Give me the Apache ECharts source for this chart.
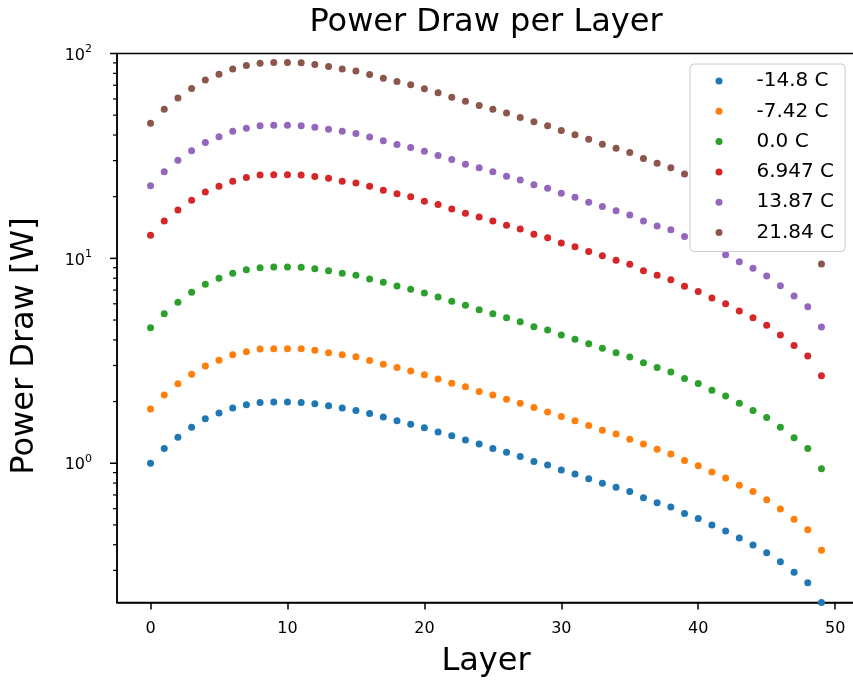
<!DOCTYPE html>
<html>
<head>
<meta charset="utf-8">
<script src="https://cdn.jsdelivr.net/npm/echarts@6/dist/echarts.min.js"></script>
<style>
  html, body { margin: 0; padding: 0; background: #fff; }
  #main { width: 853px; height: 684px; }
</style>
</head>
<body>
<div id="main"></div>
<script>
// layers on the x axis
const layers = [0,1,2,3,4,5,6,7,8,9,10,11,12,13,14,15,16,17,18,19,20,21,22,23,24,
  25,26,27,28,29,30,31,32,33,34,35,36,37,38,39,40,41,42,43,44,45,46,47,48,49];

// power draw [W] per temperature
const tm148 = [1.00,1.18,1.34,1.50,1.65,1.76,1.86,1.93,1.98,1.99,1.99,1.98,1.95,1.91,1.86,1.81,1.75,1.68,1.61,1.55,
  1.49,1.42,1.36,1.30,1.24,1.18,1.13,1.08,1.02,0.981,0.927,0.887,0.841,0.799,0.764,0.727,0.679,0.642,0.612,0.568,
  0.537,0.500,0.467,0.432,0.399,0.366,0.330,0.294,0.261,0.209];
const tm742 = [1.84,2.15,2.44,2.72,2.98,3.18,3.38,3.50,3.61,3.62,3.62,3.62,3.56,3.46,3.38,3.31,3.17,3.04,2.93,2.82,
  2.70,2.58,2.46,2.36,2.24,2.15,2.05,1.96,1.87,1.78,1.69,1.61,1.53,1.45,1.39,1.31,1.24,1.17,1.11,1.03,
  0.973,0.907,0.848,0.781,0.727,0.664,0.598,0.533,0.473,0.376];
const t00 = [4.59,5.37,6.10,6.83,7.47,7.99,8.45,8.80,9.00,9.07,9.07,9.04,8.90,8.70,8.45,8.28,7.93,7.64,7.33,7.06,
  6.77,6.48,6.17,5.90,5.61,5.37,5.13,4.91,4.64,4.47,4.22,4.03,3.83,3.64,3.46,3.30,3.09,2.93,2.79,2.59,
  2.45,2.27,2.13,1.96,1.81,1.67,1.50,1.33,1.18,0.941];
const t6947 = [12.95,15.2,17.2,19.2,21.1,22.5,23.8,24.8,25.5,25.6,25.6,25.5,25.1,24.6,23.8,23.3,22.5,21.5,20.7,20.0,
  19.0,18.3,17.4,16.6,15.9,15.2,14.5,13.9,13.1,12.6,11.9,11.4,10.8,10.3,9.78,9.35,8.70,8.26,7.86,7.30,
  6.90,6.40,6.00,5.53,5.13,4.71,4.22,3.76,3.34,2.67];
const t1387 = [22.6,26.5,30.1,33.5,36.8,39.2,41.7,43.2,44.4,44.6,44.6,44.4,43.7,42.7,41.7,40.7,39.1,37.5,36.0,34.8,
  33.3,31.8,30.4,28.8,27.7,26.5,25.2,24.1,22.9,22.0,20.8,19.9,18.8,17.9,17.1,16.3,15.2,14.4,13.8,12.8,
  12.0,11.2,10.4,9.63,8.94,8.20,7.35,6.55,5.81,4.62];
const t2184 = [45.7,53.5,60.7,67.5,74.3,79.3,84.1,87.4,89.7,90.4,90.4,90.0,88.4,86.4,84.1,82.2,79.0,75.8,73.0,70.3,
  67.2,64.3,61.2,58.5,55.8,53.5,51.2,48.7,46.4,44.4,42.1,40.1,38.1,36.1,34.5,32.9,30.7,29.1,27.7,25.8,
  24.3,22.7,21.1,19.6,18.1,16.6,14.9,13.3,11.8,9.38];

const seriesNames = ['-14.8 C', '-7.42 C', '0.0 C', '6.947 C', '13.87 C', '21.84 C'];
const seriesData = [tm148, tm742, t00, t6947, t1387, t2184];
const colors = ['#1f77b4', '#ff7f0e', '#2ca02c', '#d62728', '#9467bd', '#8c564b'];

const xTicks = [0, 10, 20, 30, 40, 50];
const yMajorTicks = [1, 10, 100];
const yMinorTicks = [0.3,0.4,0.5,0.6,0.7,0.8,0.9, 2,3,4,5,6,7,8,9, 20,30,40,50,60,70,80,90];

const FONT = "'DejaVu Sans', sans-serif";
const xMin = -2.45, xMax = 51.45, yMin = 0.209, yMax = 100;

const chart = echarts.init(document.getElementById('main'));

chart.setOption({
  animation: false,
  backgroundColor: '#fff',
  grid: {
    left: 117, top: 53.5, width: 738, height: 549,
    show: true, borderColor: '#000', borderWidth: 1.5,
    containLabel: false, outerBoundsMode: 'none'
  },
  xAxis: {
    type: 'value', min: xMin, max: xMax,
    name: 'Layer', nameLocation: 'middle', nameGap: 43,
    nameTextStyle: { fontSize: 32, fontFamily: FONT, color: '#000' },
    axisLine: { onZero: false, lineStyle: { color: '#000', width: 1.5 } },
    axisTick: { customValues: xTicks, length: 7, lineStyle: { color: '#000', width: 1.5 } },
    axisLabel: { customValues: xTicks, margin: 18, fontSize: 16, fontFamily: FONT, color: '#000' },
    splitLine: { show: false }
  },
  yAxis: {
    type: 'log', logBase: 10, min: yMin, max: yMax,
    axisLine: { onZero: false, lineStyle: { color: '#000', width: 1.5 } },
    axisTick: { show: false },
    splitLine: { show: false },
    axisLabel: {
      margin: 25,
      formatter: function (v) {
        const l = Math.log10(v), e = Math.round(l);
        if (Math.abs(l - e) > 1e-6) return '';
        return '{b|10}{s|' + e + '}';
      },
      rich: {
        b: { fontSize: 16, fontFamily: FONT, color: '#000', verticalAlign: 'bottom' },
        s: { fontSize: 11, fontFamily: FONT, color: '#000', verticalAlign: 'bottom', padding: [0, 0, 9, 0] }
      }
    }
  },
  legend: {
    orient: 'vertical', left: 690, top: 64,
    padding: [7, 11, 9, 25.5], itemGap: 10.3,
    itemWidth: 7, itemHeight: 7, icon: 'circle',
    backgroundColor: '#fff',
    borderColor: '#cccccc', borderWidth: 1, borderRadius: 4,
    formatter: function (n) { return '{g| }' + n; },
    textStyle: { fontSize: 20, fontFamily: FONT, color: '#000', lineHeight: 20, rich: { g: { width: 29 } } },
    data: seriesNames
  },
  series: seriesData.map(function (vals, k) {
    return {
      name: seriesNames[k],
      type: 'scatter',
      symbol: 'circle',
      symbolSize: 7,
      itemStyle: { color: colors[k], opacity: 1 },
      data: layers.map(function (x, i) { return [x, vals[i]]; })
    };
  })
});

// y ticks (major + minor) placed through the axis scale
const axisX = chart.convertToPixel({ xAxisIndex: 0 }, xMin);
const tickMarks = [];
yMajorTicks.forEach(function (v) {
  const y = chart.convertToPixel({ yAxisIndex: 0 }, v);
  tickMarks.push({ type: 'line', shape: { x1: axisX - 7, y1: y, x2: axisX, y2: y }, style: { stroke: '#000', lineWidth: 1.5 } });
});
yMinorTicks.forEach(function (v) {
  const y = chart.convertToPixel({ yAxisIndex: 0 }, v);
  tickMarks.push({ type: 'line', shape: { x1: axisX - 4, y1: y, x2: axisX, y2: y }, style: { stroke: '#000', lineWidth: 1.2 } });
});

chart.setOption({
  graphic: tickMarks.concat([
    {
      type: 'text', x: 486, y: 23,
      style: { text: 'Power Draw per Layer', fontSize: 32, fontFamily: FONT, fill: '#000', align: 'center', verticalAlign: 'middle' }
    },
    {
      type: 'text', x: 25, y: 346, rotation: Math.PI / 2,
      style: { text: 'Power Draw [W]', fontSize: 32, fontFamily: FONT, fill: '#000', align: 'center', verticalAlign: 'middle' }
    }
  ])
});
</script>
</body>
</html>
